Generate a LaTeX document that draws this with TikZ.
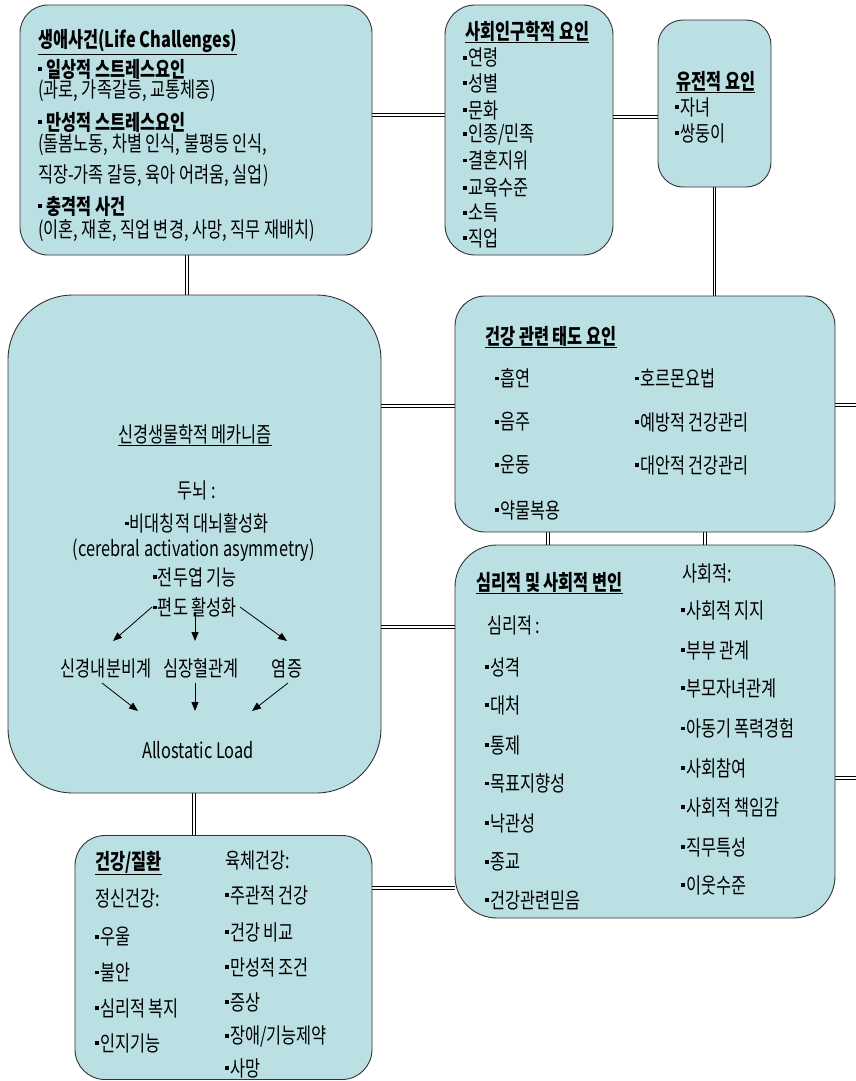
\documentclass[tikz,border=0pt]{standalone}
\usepackage{fontspec}
\setmainfont{Noto Sans CJK KR}[FakeStretch=0.76]
\usetikzlibrary{arrows.meta,backgrounds}
\definecolor{boxfill}{RGB}{187,224,228}
\newcommand\bl{\raisebox{6pt}{\rule{3.6pt}{3.6pt}}\hspace{1.2pt}}
\begin{document}
\begin{tikzpicture}[x=1pt,y=-1pt,
  box/.style={draw=black!80, line width=0.9pt, fill=boxfill, rounded corners=#1, inner sep=0pt, outer sep=0pt},
  t/.style={anchor=west, inner sep=0pt, font=\fontsize{21.5}{24}\selectfont},
  tb/.style={anchor=west, inner sep=0pt, font=\fontsize{21.5}{24}\selectfont\bfseries},
  tc/.style={anchor=center, inner sep=0pt, font=\fontsize{21.5}{24}\selectfont},
  conn/.style={draw=black, double=white, line width=1pt, double distance=1.6pt},
  arr/.style={-{Triangle[length=9pt,width=7pt]}, line width=0.8pt}]
\useasboundingbox (0,0) rectangle (856,1081);
% boxes
\node[box=28, minimum width=352pt, minimum height=250pt] (A) at (196,130) {};
\node[box=30, minimum width=168pt, minimum height=250pt] (B) at (529,130) {};
\node[box=25, minimum width=113pt, minimum height=167pt] (C) at (714.5,103.5) {};
\node[box=65, minimum width=373pt, minimum height=498pt] (D) at (194.5,544) {};
\node[box=30, minimum width=380pt, minimum height=236pt] (E) at (645,414) {};
\node[box=42, minimum width=380pt, minimum height=373pt] (F) at (645,731.5) {};
\node[box=30, minimum width=297pt, minimum height=244pt] (G) at (223.5,957.5) {};
% connectors
\coordinate (R1) at (856,405);
\coordinate (R2) at (856,778);
\begin{scope}[on background layer]
\draw[conn] (A.east |- 0,115) -- (B.west |- 0,115);
\draw[conn] (B.east |- 0,117) -- (C.west |- 0,117);
\draw[conn] (C.south) -- (C.south |- E.north);
\draw[conn] (A.south -| 187,0) -- (D.north -| 187,0);
\draw[conn] (D.east |- 0,406) -- (E.west |- 0,406);
\draw[conn] (E.east |- R1) -- (R1);
\draw[conn] (E.south -| 548,0) -- (F.north -| 548,0);
\draw[conn] (E.south -| 705,0) -- (F.north -| 705,0);
\draw[conn] (D.east |- 0,627) -- (F.west |- 0,627);
\draw[conn] (F.east |- R2) -- (R2);
\draw[conn] (G.east |- 0,888) -- (F.west |- 0,888);
\draw[conn] (D.south -| 194,0) -- (G.north -| 194,0);
\end{scope}
% box A
\node[tb] (a0) at (38,42) {\underline{생애사건(Life Challenges)}};
\node[tb] (a1) at (38,69) {\bl\ 일상적 스트레스요인};
\node[t]  (a2) at (38,91) {(과로, 가족갈등, 교통체증)};
\node[tb] (a3) at (38,122) {\bl\ 만성적 스트레스요인};
\node[t]  (a4) at (38,145) {(돌봄노동, 차별 인식, 불평등 인식,};
\node[t]  (a5) at (38,176) {직장-가족 갈등, 육아 어려움, 실업)};
\node[tb] (a6) at (38,206) {\bl\ 충격적 사건};
\node[t]  (a7) at (38,231) {(이혼, 재혼, 직업 변경, 사망, 직무 재배치)};
% box B
\node[tb] (b0) at (465,32) {\underline{사회인구학적 요인}};
\node[t] (b1) at (463,58) {\bl 연령};
\node[t] (b2) at (463,83) {\bl 성별};
\node[t] (b3) at (463,110) {\bl 문화};
\node[t] (b4) at (463,135) {\bl 인종/민족};
\node[t] (b5) at (463,160) {\bl 결혼지위};
\node[t] (b6) at (463,188) {\bl 교육수준};
\node[t] (b7) at (463,213) {\bl 소득};
\node[t] (b8) at (463,238) {\bl 직업};
% box C
\node[tb] (c0) at (676,82) {\underline{유전적 요인}};
\node[t] (c1) at (675,107) {\bl 자녀};
\node[t] (c2) at (675,133) {\bl 쌍둥이};
% box D
\node[tc] (d0) at (195,435) {\underline{신경생물학적 메카니즘}};
\node[tc] (d1) at (197,490) {두뇌 :};
\node[tc] (d2) at (197,523) {\bl 비대칭적 대뇌활성화};
\node[tc] (d3) at (194,550) {(cerebral activation asymmetry)};
\node[tc] (d4) at (195,577) {\bl 전두엽 기능};
\node[tc] (d5) at (195,607) {\bl 편도 활성화};
\node[tc] (neuro) at (106,668) {신경내분비계};
\node[tc] (cardio) at (201,668) {심장혈관계};
\node[tc] (infl) at (287,668) {염증};
\node[tc] (allo) at (198,750) {Allostatic Load};
\coordinate (u1) at (152,607);
\coordinate (u2) at (195,612);
\coordinate (u3) at (240,607);
\coordinate (v1) at (113,641);
\coordinate (v2) at (195,641);
\coordinate (v3) at (287,641);
\coordinate (w1) at (102,683);
\coordinate (w2) at (195,683);
\coordinate (w3) at (288,683);
\coordinate (z1) at (138,711);
\coordinate (z2) at (195,711);
\coordinate (z3) at (252,711);
\draw[arr] (u1) -- (v1);
\draw[arr] (u2) -- (v2);
\draw[arr] (u3) -- (v3);
\draw[arr] (w1) -- (z1);
\draw[arr] (w2) -- (z2);
\draw[arr] (w3) -- (z3);
% box E
\node[tb] (e0) at (485,337) {\underline{건강 관련 태도 요인}};
\node[t] (e1) at (495,378) {\bl 흡연};
\node[t] (e2) at (495,422) {\bl 음주};
\node[t] (e3) at (495,465) {\bl 운동};
\node[t] (e4) at (495,510) {\bl 약물복용};
\node[t] (e5) at (635,378) {\bl 호르몬요법};
\node[t] (e6) at (635,422) {\bl 예방적 건강관리};
\node[t] (e7) at (635,465) {\bl 대안적 건강관리};
% box F
\node[tb] (f0) at (476,583) {\underline{심리적 및 사회적 변인}};
\node[t] (f1) at (487,625) {심리적 :};
\node[t] (f2) at (485,667) {\bl 성격};
\node[t] (f3) at (485,705) {\bl 대처};
\node[t] (f4) at (485,745) {\bl 통제};
\node[t] (f5) at (485,783) {\bl 목표지향성};
\node[t] (f6) at (485,823) {\bl 낙관성};
\node[t] (f7) at (485,862) {\bl 종교};
\node[t] (f8) at (485,900) {\bl 건강관련믿음};
\node[t] (g0s) at (682,573) {사회적:};
\node[t] (s1) at (681,610) {\bl 사회적 지지};
\node[t] (s2) at (681,650) {\bl 부부 관계};
\node[t] (s3) at (681,688) {\bl 부모자녀관계};
\node[t] (s4) at (681,728) {\bl 아동기 폭력경험};
\node[t] (s5) at (681,768) {\bl 사회참여};
\node[t] (s6) at (681,807) {\bl 사회적 책임감};
\node[t] (s7) at (681,847) {\bl 직무특성};
\node[t] (s8) at (681,885) {\bl 이웃수준};
% box G
\node[tb] (h0) at (95,863) {\underline{건강/질환}};
\node[t] (h1) at (95,898) {정신건강:};
\node[t] (h2) at (95,937) {\bl 우울};
\node[t] (h3) at (95,972) {\bl 불안};
\node[t] (h4) at (95,1008) {\bl 심리적 복지};
\node[t] (h5) at (95,1043) {\bl 인지기능};
\node[t] (k0) at (225,860) {육체건강:};
\node[t] (k1) at (225,895) {\bl 주관적 건강};
\node[t] (k2) at (225,932) {\bl 건강 비교};
\node[t] (k3) at (225,967) {\bl 만성적 조건};
\node[t] (k4) at (225,1002) {\bl 증상};
\node[t] (k5) at (225,1037) {\bl 장애/기능제약};
\node[t] (k6) at (225,1068) {\bl 사망};
\end{tikzpicture}
\end{document}
